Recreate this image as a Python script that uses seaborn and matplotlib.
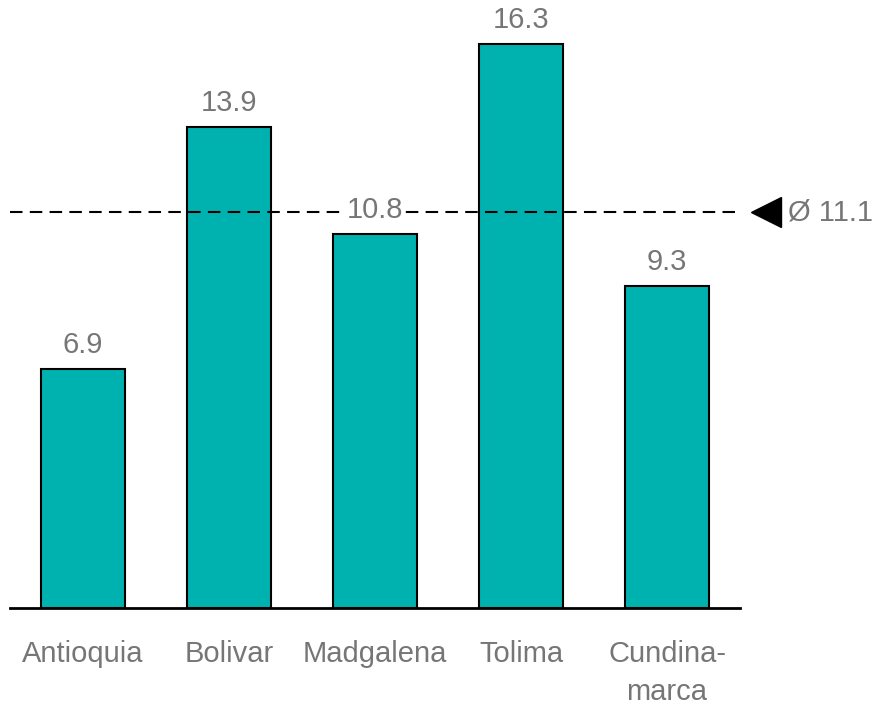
import matplotlib
matplotlib.use('Agg')
import matplotlib.pyplot as plt
import pandas as pd
import seaborn as sns

# data
regions = ['Antioquia', 'Bolivar', 'Madgalena', 'Tolima', 'Cundina-\nmarca']
values = [6.9, 13.9, 10.8, 16.3, 9.3]
avg_value = 11.44
avg_label = 'Ø 11.1'

bar_color = '#00B2AF'
text_color = '#767676'

sns.set_theme(style='white')
plt.rcParams['font.family'] = ['Liberation Sans', 'DejaVu Sans']

df = pd.DataFrame({'region': regions, 'value': values})

fig = plt.figure(figsize=(8.75, 7.04), dpi=100)
ax = fig.add_axes([10 / 875, 96 / 704, 730 / 875, 608 / 704])

sns.barplot(data=df, x='region', y='value', color=bar_color, width=0.57,
            edgecolor='black', linewidth=1.5, saturation=1, ax=ax, zorder=2)

ax.set_xlim(-0.5, 4.5)
ax.set_ylim(0, 17.57)

# average line on top of the bars
ax.axhline(avg_value, color='black', linestyle=(0, (6, 3.5)), linewidth=1.5, zorder=3)
ax.plot([4.68], [avg_value], marker='<', markersize=22, color='black',
        clip_on=False, zorder=4)
ax.text(4.83, avg_value, avg_label, color=text_color, fontsize=21,
        va='center', ha='left', clip_on=False)

# value labels
for i, v in enumerate(values):
    t = ax.text(i, v + 0.3, f'{v:.1f}', ha='center', va='bottom',
                color=text_color, fontsize=21, zorder=5)
    if abs(v - avg_value) < 1.2:
        t.set_bbox(dict(facecolor='white', edgecolor='none', pad=1))

for s in ['top', 'right', 'left']:
    ax.spines[s].set_visible(False)
ax.spines['bottom'].set_color('black')
ax.spines['bottom'].set_linewidth(2)
ax.set_yticks([])
ax.set_xlabel('')
ax.set_ylabel('')
ax.tick_params(axis='x', length=0, pad=23, labelsize=21, labelcolor=text_color)
for lbl in ax.get_xticklabels():
    lbl.set_linespacing(1.45)
    lbl.set_verticalalignment('top')

fig.savefig('out.png', dpi=100)
